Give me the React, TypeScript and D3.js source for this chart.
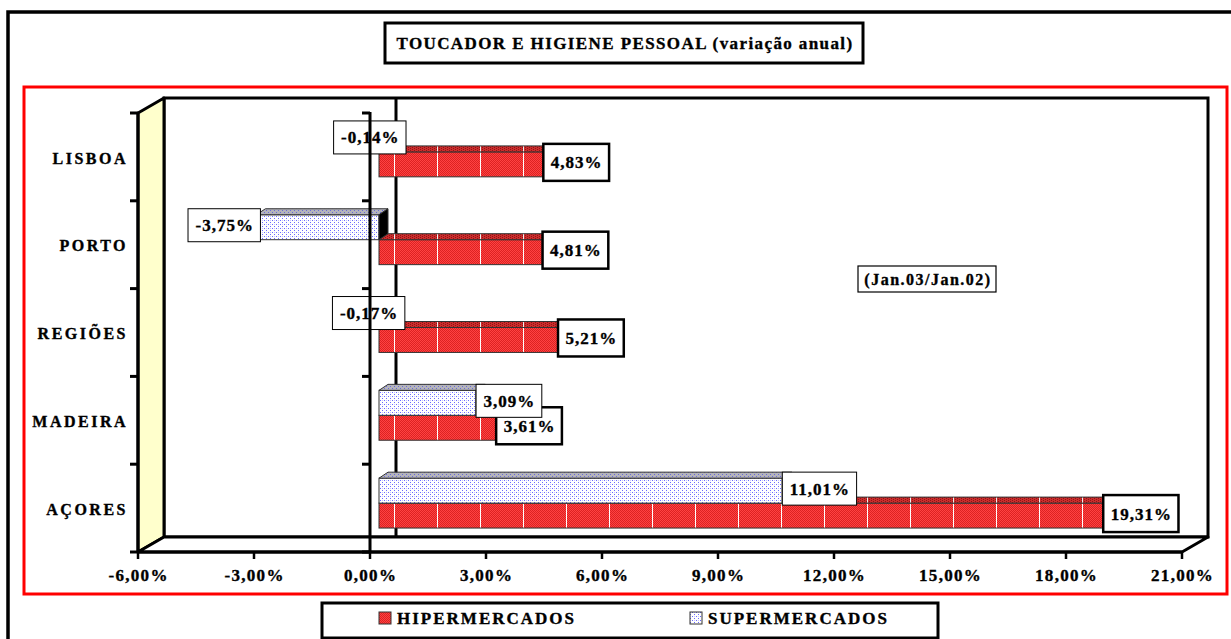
import React from "react";
import * as d3 from "d3";

// chart data
const categories = ["LISBOA", "PORTO", "REGIÕES", "MADEIRA", "AÇORES"];
const hiperValues = [4.83, 4.81, 5.21, 3.61, 19.31];
const superValues = [-0.14, -3.75, -0.17, 3.09, 11.01];
const xTicks = [-6, -3, 0, 3, 6, 9, 12, 15, 18, 21];
const seriesNames = ["SUPERMERCADOS", "HIPERMERCADOS"];
const title = "TOUCADOR E HIGIENE PESSOAL (variação anual)";
const note = "(Jan.03/Jan.02)";

const W = 1231;
const H = 639;
const FONT = "'Liberation Serif','Times New Roman',serif";

// 3D offsets (px)
const WALL = { dx: 26, dy: -15 };
const BAR_FRONT = { dx: 9, dy: -5 };
const BAR_DEPTH = { dx: 9, dy: -6 };
// the old renderer draws every bar a little short of its value
const LAG = 0.58;

const fmt = (v: number) =>
  d3.format(".2f")(v).replace("−", "-").replace(".", ",") + "%";

let ctx: CanvasRenderingContext2D | null = null;
const textWidth = (s: string, font: string, spacing: number) => {
  if (!ctx) ctx = document.createElement("canvas").getContext("2d");
  if (!ctx) return s.length * 9;
  ctx.font = font;
  return ctx.measureText(s).width + spacing * s.length;
};

// heavy bold text like the original
const heavy = { fontWeight: "bold", stroke: "#000", strokeWidth: 0.35 } as const;

const App = () => {
  const x = d3.scaleLinear().domain([-6, 21]).range([138, 1182]);
  const y = d3.scaleBand().domain(categories).range([113, 552]);
  const ys = d3
    .scaleBand()
    .domain(seriesNames)
    .range([0, y.bandwidth()])
    .paddingInner(0)
    .paddingOuter(0.76);

  const top = y.range()[0];
  const bottom = y.range()[1];
  const left = x.range()[0];
  const right = x.range()[1];
  const boundaries = d3.range(categories.length + 1).map((i) => top + i * y.step());

  const bars: any[] = [];
  const labels: any[] = [];
  categories.forEach((c, i) => {
    // hiper first, super drawn over it
    [
      { name: "HIPERMERCADOS", v: hiperValues[i] },
      { name: "SUPERMERCADOS", v: superValues[i] },
    ].forEach(({ name, v }) => {
      const isHiper = name === "HIPERMERCADOS";
      const h = ys.bandwidth();
      const t = (y(c) as number) + (ys(name) as number) + BAR_FRONT.dy;
      const b = t + h;
      const x0 = x(0) + BAR_FRONT.dx;
      const len = Math.abs(v) - LAG;
      const xe = x(Math.sign(v) * len) + BAR_FRONT.dx;
      if (len > 0) {
        const l = Math.min(x0, xe);
        const r = Math.max(x0, xe);
        const { dx, dy } = BAR_DEPTH;
        bars.push(
          <g key={name + c}>
            <rect
              x={l}
              y={t}
              width={r - l}
              height={h}
              fill={isHiper ? "url(#hiperPat)" : "url(#superPat)"}
              stroke="#333"
              strokeWidth={1}
            />
            <polygon
              points={`${l},${t} ${r},${t} ${r + dx},${t + dy} ${l + dx},${t + dy}`}
              fill={isHiper ? "url(#hiperTop)" : "url(#superTop)"}
              stroke="#333"
              strokeWidth={1}
            />
            <polygon
              points={`${r},${t} ${r + dx},${t + dy} ${r + dx},${b + dy} ${r},${b}`}
              fill={isHiper ? "#7a0000" : "#000"}
              stroke="#333"
              strokeWidth={1}
            />
          </g>
        );
      }
      const text = fmt(v);
      const fs = 17;
      const ls = 1;
      const tw = textWidth(text, `bold ${fs}px ${FONT}`, ls);
      const bw = tw + 14;
      const bh = isHiper ? 37 : 33;
      // small negatives with no visible bar sit a bit further right
      const bx = v >= 0 ? xe : xe - bw + (len > 0 ? 4 : 10);
      const by = (t + b) / 2 - 2 - bh / 2;
      labels.push(
        <g key={"l" + name + c}>
          <rect
            x={bx}
            y={by}
            width={bw}
            height={bh}
            fill="#fff"
            stroke="#000"
            strokeWidth={isHiper ? 2.5 : 1}
          />
          <text
            x={bx + bw / 2 + ls / 2}
            y={by + bh / 2}
            dy="0.35em"
            textAnchor="middle"
            fontSize={fs}
            letterSpacing={ls}
            fontFamily={FONT}
            {...heavy}
          >
            {text}
          </text>
        </g>
      );
    });
  });

  const legendItems = [
    { name: "HIPERMERCADOS", pat: "url(#hiperPat)", x: 379 },
    { name: "SUPERMERCADOS", pat: "url(#superPat)", x: 690 },
  ];

  return (
    <svg
      width={W}
      height={H}
      style={{ position: "absolute", left: 0, top: 0, background: "#fff" }}
      fontFamily={FONT}
    >
      <defs>
        <pattern id="hiperPat" width={43} height={2} patternUnits="userSpaceOnUse" x={394}>
          <rect width={43} height={2} fill="#ff4242" />
          {d3.range(0, 43, 2).map((i) => (
            <rect key={i} x={i + 1} y={0} width={1} height={1} fill="#dc2222" />
          ))}
          {d3.range(0, 43, 2).map((i) => (
            <rect key={"b" + i} x={i} y={1} width={1} height={1} fill="#dc2222" />
          ))}
          <rect x={0} y={0} width={1} height={2} fill="#fff" />
        </pattern>
        <pattern id="hiperTop" width={43} height={2} patternUnits="userSpaceOnUse" x={394}>
          <rect width={43} height={2} fill="#cc2c2c" />
          {d3.range(0, 43, 2).map((i) => (
            <rect key={i} x={i} y={(i / 2) % 2} width={1} height={1} fill="#901414" />
          ))}
          <rect x={0} y={0} width={1} height={2} fill="#eee" />
        </pattern>
        <pattern id="superPat" width={4} height={4} patternUnits="userSpaceOnUse">
          <rect width={4} height={4} fill="#fff" />
          <rect x={0} y={0} width={1} height={1} fill="#6a6aff" />
          <rect x={2} y={2} width={1} height={1} fill="#6a6aff" />
          <rect x={2} y={0} width={1} height={1} fill="#c8c8ff" />
        </pattern>
        <pattern id="superTop" width={4} height={4} patternUnits="userSpaceOnUse">
          <rect width={4} height={4} fill="#b4b4bc" />
          <rect x={0} y={0} width={1} height={1} fill="#6a6ad8" />
          <rect x={2} y={2} width={1} height={1} fill="#6a6ad8" />
        </pattern>
      </defs>

      {/* outer frame */}
      <path d={`M8,${H} V12 H${W}`} fill="none" stroke="#000" strokeWidth={3.5} />

      {/* title */}
      <rect x={385} y={23} width={478} height={40} fill="#fff" stroke="#000" strokeWidth={3} />
      <text
        x={625}
        y={43}
        dy="0.35em"
        textAnchor="middle"
        fontSize={17}
        letterSpacing={1.4}
        {...heavy}
      >
        {title}
      </text>

      {/* red plot area border */}
      <rect x={24} y={87} width={1203} height={507} fill="none" stroke="#ff0000" strokeWidth={3} />

      {/* back wall */}
      <rect
        x={left + WALL.dx}
        y={top + WALL.dy}
        width={right - left}
        height={bottom - top}
        fill="#fff"
        stroke="#000"
        strokeWidth={3}
      />
      {/* side wall */}
      <polygon
        points={`${left},${top} ${left + WALL.dx},${top + WALL.dy} ${left + WALL.dx},${bottom + WALL.dy} ${left},${bottom}`}
        fill="#ffffcc"
        stroke="#000"
        strokeWidth={3}
        strokeLinejoin="round"
      />
      {/* floor */}
      <polygon
        points={`${left},${bottom} ${left + WALL.dx},${bottom + WALL.dy} ${right + WALL.dx},${bottom + WALL.dy} ${right},${bottom}`}
        fill="#fff"
        stroke="#000"
        strokeWidth={3}
        strokeLinejoin="round"
      />
      {/* zero line on back wall */}
      <line
        x1={x(0) + WALL.dx}
        x2={x(0) + WALL.dx}
        y1={top + WALL.dy}
        y2={bottom + WALL.dy}
        stroke="#000"
        strokeWidth={3}
      />

      {bars}
      {labels}

      {/* front value axis */}
      <line x1={left} x2={right} y1={bottom} y2={bottom} stroke="#000" strokeWidth={3} />
      {xTicks.map((t) => (
        <g key={t}>
          <line x1={x(t)} x2={x(t)} y1={bottom} y2={bottom + 7} stroke="#000" strokeWidth={2.5} />
          <text
            x={x(t) + 0.6}
            y={bottom + 23}
            dy="0.35em"
            textAnchor="middle"
            fontSize={17}
            letterSpacing={1.3}
            {...heavy}
          >
            {fmt(t)}
          </text>
        </g>
      ))}

      {/* category axes: left wall edge and at zero */}
      {[left, x(0)].map((ax) => (
        <g key={ax}>
          <line x1={ax} x2={ax} y1={top - 1} y2={bottom} stroke="#000" strokeWidth={3} />
          {boundaries.map((yy) => (
            <line key={yy} x1={ax - 8} x2={ax} y1={yy} y2={yy} stroke="#000" strokeWidth={3} />
          ))}
        </g>
      ))}
      {categories.map((c) => (
        <text
          key={c}
          x={128}
          y={(y(c) as number) + y.bandwidth() / 2 + 1}
          dy="0.35em"
          textAnchor="end"
          fontSize={16}
          letterSpacing={2.5}
          {...heavy}
        >
          {c}
        </text>
      ))}

      {/* period note */}
      <rect x={858} y={266} width={138} height={26} fill="#fff" stroke="#000" strokeWidth={1.2} />
      <text
        x={928}
        y={279}
        dy="0.35em"
        textAnchor="middle"
        fontSize={16}
        letterSpacing={1.5}
        {...heavy}
      >
        {note}
      </text>

      {/* legend */}
      <rect x={322} y={603} width={616} height={35} fill="#fff" stroke="#000" strokeWidth={3} />
      {legendItems.map((d) => (
        <g key={d.name}>
          <rect x={d.x} y={612} width={12} height={12} fill={d.pat} stroke="#333" strokeWidth={1} />
          <text x={d.x + 18} y={618} dy="0.35em" fontSize={17} letterSpacing={2} {...heavy}>
            {d.name}
          </text>
        </g>
      ))}
    </svg>
  );
};

export default App;
